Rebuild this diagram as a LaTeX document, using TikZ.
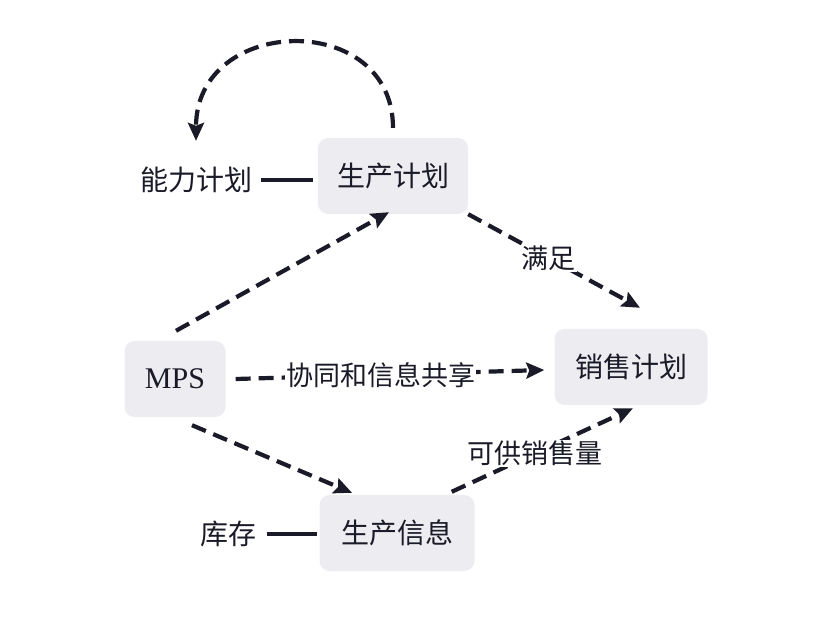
\documentclass[tikz,border=0pt]{standalone}
\usepackage{fontspec}
\newfontfamily\cjk{Noto Sans CJK SC}
\newfontfamily\latinserif{Liberation Serif}
\usepackage{xcolor}
\usetikzlibrary{arrows.meta, positioning, calc}
\definecolor{boxgray}{HTML}{EDECF0}
\definecolor{inkdark}{HTML}{1A1A28}
\begin{document}
\begin{tikzpicture}[
  x=1pt, y=-1pt,
  box/.style={rectangle, fill=boxgray, rounded corners=10pt, minimum height=76pt, font=\cjk\fontsize{28}{32}\selectfont, text=inkdark, align=center},
  plain/.style={font=\cjk\fontsize{28}{32}\selectfont, text=inkdark, inner sep=2pt},
  dasharrow/.style={draw=inkdark, line width=4.2pt, dash pattern=on 15pt off 8pt, -{Stealth[length=18pt, width=16pt, inset=3pt]}},
  solidlink/.style={draw=inkdark, line width=4.5pt},
  edgelabel/.style={font=\cjk\fontsize{27}{30}\selectfont, text=inkdark, fill=white, inner sep=1pt}
]
\useasboundingbox (0,0) rectangle (820,636);
% boxes
\node[box, minimum width=150pt] (prod) at (393,176) {生产计划};
\node[box, minimum width=101pt, font=\latinserif\fontsize{30}{34}\selectfont] (mps) at (175,379) {MPS};
\node[box, minimum width=153pt] (sales) at (631,367) {销售计划};
\node[box, minimum width=155pt] (info) at (397,533) {生产信息};
% side labels
\node[plain] (cap) at (196,180) {能力计划};
\node[plain] (stock) at (228,534) {库存};
\draw[solidlink] ([xshift=7pt]cap.east) -- ([xshift=-5pt]cap.east -| prod.west);
\draw[solidlink] ([xshift=9pt]stock.east) -- ([xshift=-2pt]stock.east -| info.west);
% loop
\draw[dasharrow] ([yshift=10pt]prod.north) .. controls +(0,-118) and +(0,-126) .. ([yshift=24pt]cap.north);
% arrows
\draw[dasharrow] ([xshift=1pt, yshift=10pt]mps.north) -- ([xshift=-4pt, yshift=2pt]prod.south);
\draw[dasharrow] (prod.south east) -- node[edgelabel, pos=0.47] {满足} ([xshift=9pt, yshift=21pt]sales.north);
\draw[dasharrow] ([xshift=10pt]mps.east) -- node[edgelabel, pos=0.47] {协同和信息共享} ([xshift=-10pt, yshift=-3pt]sales.west);
\draw[dasharrow] ([xshift=17pt, yshift=-8pt]mps.south) -- ([xshift=-45pt, yshift=2pt]info.north);
\draw[dasharrow] ([xshift=-23pt, yshift=3pt]info.north east) -- node[edgelabel, pos=0.46] {可供销售量} ([xshift=2pt, yshift=-3pt]sales.south);
\end{tikzpicture}
\end{document}
